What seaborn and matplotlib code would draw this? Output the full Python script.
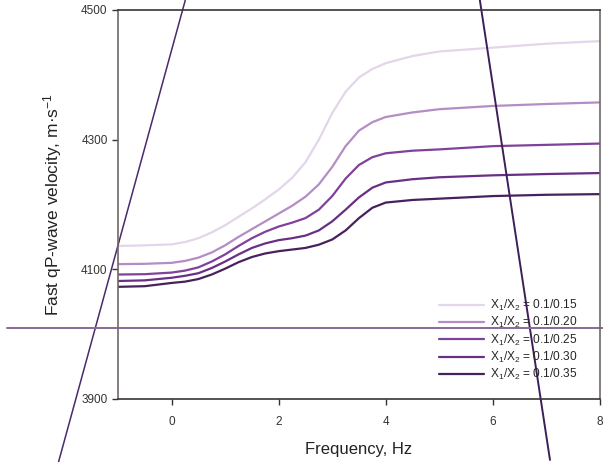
import matplotlib
matplotlib.use("Agg")
import matplotlib.pyplot as plt
import numpy as np
import pandas as pd
import seaborn as sns

sns.set_style("ticks")
plt.rcParams["font.family"] = ["Liberation Sans", "DejaVu Sans"]
plt.rcParams["mathtext.fontset"] = "custom"
plt.rcParams["mathtext.rm"] = "Liberation Sans"
plt.rcParams["mathtext.it"] = "Liberation Sans"

# frequency grid (Hz)
freq = [-1, -0.5, 0, 0.25, 0.5, 0.75, 1, 1.25, 1.5, 1.75, 2, 2.25, 2.5, 2.75,
        3, 3.25, 3.5, 3.75, 4, 4.5, 5, 6, 7, 8]

# velocity curves, one per X1/X2 ratio
v_015 = [4136, 4137, 4138.5, 4142, 4148, 4157, 4168, 4181, 4194, 4208, 4223, 4241, 4265, 4300,
         4341, 4374, 4396, 4409, 4418, 4429, 4436, 4442, 4448, 4452]
v_020 = [4108, 4108.5, 4110, 4113, 4118, 4126, 4137, 4150, 4162, 4174, 4186, 4198, 4212, 4231,
         4258, 4290, 4314, 4327, 4335, 4342, 4347, 4352, 4355, 4357.5]
v_025 = [4092, 4092.5, 4095, 4098, 4103, 4112, 4123, 4136, 4148, 4158, 4166, 4172, 4179, 4192,
         4213, 4240, 4261, 4273, 4279, 4283, 4285, 4290, 4292, 4294]
v_030 = [4082, 4083, 4087, 4090, 4094, 4102, 4112, 4123, 4133, 4140, 4145, 4148, 4152, 4160,
         4174, 4192, 4211, 4226, 4234, 4239, 4242, 4245, 4247, 4248.5]
v_035 = [4073, 4074, 4079, 4081, 4085, 4092, 4101, 4111, 4119, 4124.5, 4128, 4130.5, 4133, 4138,
         4146, 4160, 4179, 4195, 4203, 4207, 4209, 4213, 4215, 4216]

labels = ["X$_1$/X$_2$ = 0.1/0.15", "X$_1$/X$_2$ = 0.1/0.20", "X$_1$/X$_2$ = 0.1/0.25",
          "X$_1$/X$_2$ = 0.1/0.30", "X$_1$/X$_2$ = 0.1/0.35"]
colors = ["#e3d5ea", "#b48dc4", "#7f4199", "#692f85", "#47215c"]

# stray straight lines that run across the figure
line_a_x = [-2.11, 0.256]
line_a_y = [3803, 4515]
line_b_x = [5.757, 7.066]
line_b_y = [4515, 3806]
hline_x = [-3.08, 8.07]
hline_y = [4010, 4010]

df = pd.concat([
    pd.DataFrame({"freq": freq, "vel": v, "ratio": lab})
    for v, lab in zip([v_015, v_020, v_025, v_030, v_035], labels)
])

fig = plt.figure(figsize=(6.03, 4.62), dpi=100)
ax = fig.add_axes([118 / 603, 1 - 399 / 462, 482 / 603, 389 / 462])

sns.lineplot(data=df, x="freq", y="vel", hue="ratio", palette=colors, linewidth=1.6, ax=ax)

ax.plot(line_a_x, line_a_y, color="#4a2a6c", linewidth=1.1, clip_on=False)
ax.plot(line_b_x, line_b_y, color="#3c1f5a", linewidth=1.4, clip_on=False)
ax.plot(hline_x, hline_y, color="#866a9a", linewidth=1.4, clip_on=False)

ax.set_xlim(-1, 8)
ax.set_ylim(3900, 4500)
ax.set_xticks([0, 2, 4, 6, 8])
ax.set_yticks([3900, 4100, 4300, 4500])
ax.tick_params(axis="both", labelsize=8.5, colors="#333333", length=4, width=1)
ax.tick_params(axis="x", pad=8)
ax.set_xlabel("Frequency, Hz", fontsize=12, color="#222222", labelpad=10)
ax.set_ylabel("Fast qP-wave velocity, m·s$^{-1}$", fontsize=12.5, color="#222222", labelpad=12)

for side in ["top", "bottom"]:
    ax.spines[side].set_color("#3a3535")
for side in ["left", "right"]:
    ax.spines[side].set_color("#6f6866")
for s in ax.spines.values():
    s.set_linewidth(1.2)

ax.legend(loc="center left", bbox_to_anchor=((439 - 118) / 482, (399 - 340) / 389),
          frameon=False, fontsize=8.6, handlelength=3.8, handletextpad=0.5,
          labelspacing=0.18, borderpad=0, borderaxespad=0)

fig.savefig("out.png", dpi=100)
